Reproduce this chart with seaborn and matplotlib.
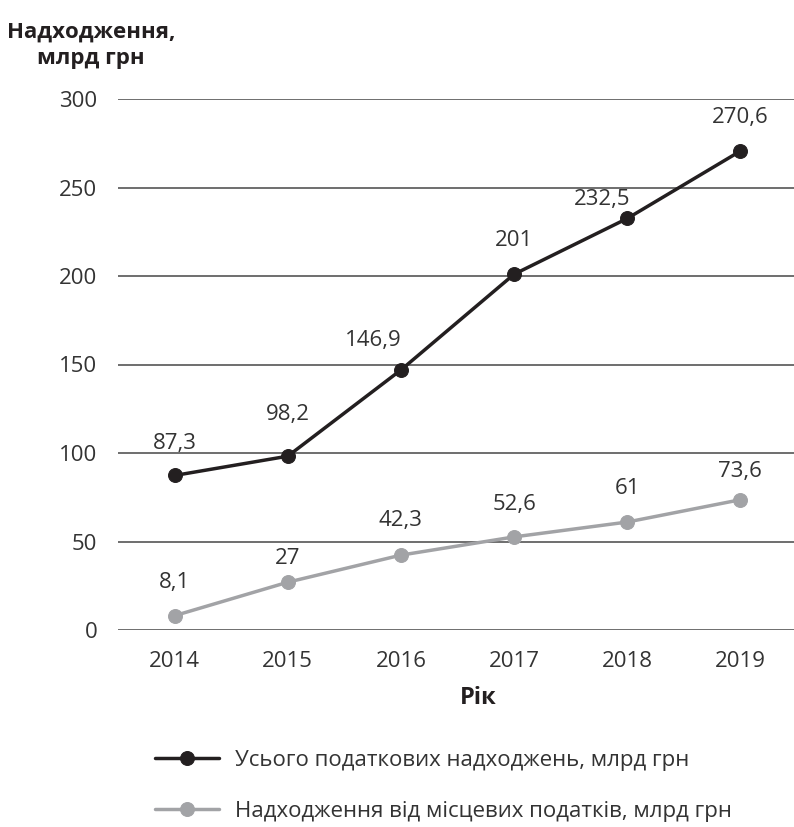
import pandas as pd
import matplotlib
matplotlib.use("Agg")
import matplotlib.pyplot as plt
import seaborn as sns

sns.set_theme(style="white")
plt.rcParams["font.family"] = ["Open Sans", "DejaVu Sans"]

# ---------------------------------------------------------
# Data
# ---------------------------------------------------------
years = [2014, 2015, 2016, 2017, 2018, 2019]
total_taxes = [87.3, 98.2, 146.9, 201, 232.5, 270.6]
local_taxes = [8.1, 27, 42.3, 52.6, 61, 73.6]
total_label = "Усього податкових надходжень, млрд грн"
local_label = "Надходження від місцевих податків, млрд грн"

df = pd.DataFrame({"Year": years, "Total": total_taxes, "Local": local_taxes})

BLACK = "#231f20"
GREY = "#a2a3a6"
TEXT = "#333333"

# label offsets (points) for value annotations
total_offsets = [(0, 23), (0, 30), (-20, 21), (0, 24), (-18, 14), (0, 24)]
local_offsets = [(0, 24), (0, 17), (0, 25), (0, 23), (0, 24), (0, 20)]


def fmt(v):
    s = f"{v:g}"
    return s.replace(".", ",")


# ---------------------------------------------------------
# Plot
# ---------------------------------------------------------
fig = plt.figure(figsize=(7.94, 8.27), dpi=100)
ax = fig.add_axes([118 / 794, 1 - 630 / 827, 679 / 794, 531 / 827])

line_kw = dict(marker="o", markersize=10, linewidth=2.5, clip_on=False)
sns.lineplot(data=df, x="Year", y="Total", ax=ax, color=BLACK, mec=BLACK,
             label=total_label, **line_kw)
sns.lineplot(data=df, x="Year", y="Local", ax=ax, color=GREY, mec=GREY,
             label=local_label, **line_kw)

for x, v, off in zip(years, total_taxes, total_offsets):
    ax.annotate(fmt(v), (x, v), xytext=off, textcoords="offset points",
                ha="center", va="center", fontsize=16, color=TEXT)
for x, v, off in zip(years, local_taxes, local_offsets):
    ax.annotate(fmt(v), (x, v), xytext=off, textcoords="offset points",
                ha="center", va="center", fontsize=16, color=TEXT)

ax.set_xlim(2013.5, 2019.5)
ax.set_ylim(0, 300)
ax.set_yticks(range(0, 301, 50))
ax.set_xticks(years)
ax.yaxis.grid(True, color="#555555", linewidth=1.2)
ax.xaxis.grid(False)
for sp in ax.spines.values():
    sp.set_visible(False)
ax.tick_params(axis="both", length=0, labelsize=16, labelcolor=TEXT)
ax.tick_params(axis="y", pad=15)
ax.tick_params(axis="x", pad=15)
ax.set_xlabel("")
ax.set_ylabel("")

fig.text(91 / 794, 1 - 45 / 827, "Надходження,\nмлрд грн", ha="center", va="center",
         fontsize=16, fontweight="bold", color=BLACK, linespacing=1.35)
fig.text(478 / 794, 1 - 698 / 827, "Рік", ha="center", va="center",
         fontsize=17, fontweight="bold", color=BLACK)

ax.legend(loc="upper left", bbox_to_anchor=(155 / 794, 1 - 750 / 827),
          bbox_transform=fig.transFigure, frameon=False, fontsize=16,
          borderaxespad=0, borderpad=0, handlelength=2.9, handletextpad=0.7,
          labelspacing=1.35, labelcolor=TEXT)

fig.savefig("out.png", dpi=100)
